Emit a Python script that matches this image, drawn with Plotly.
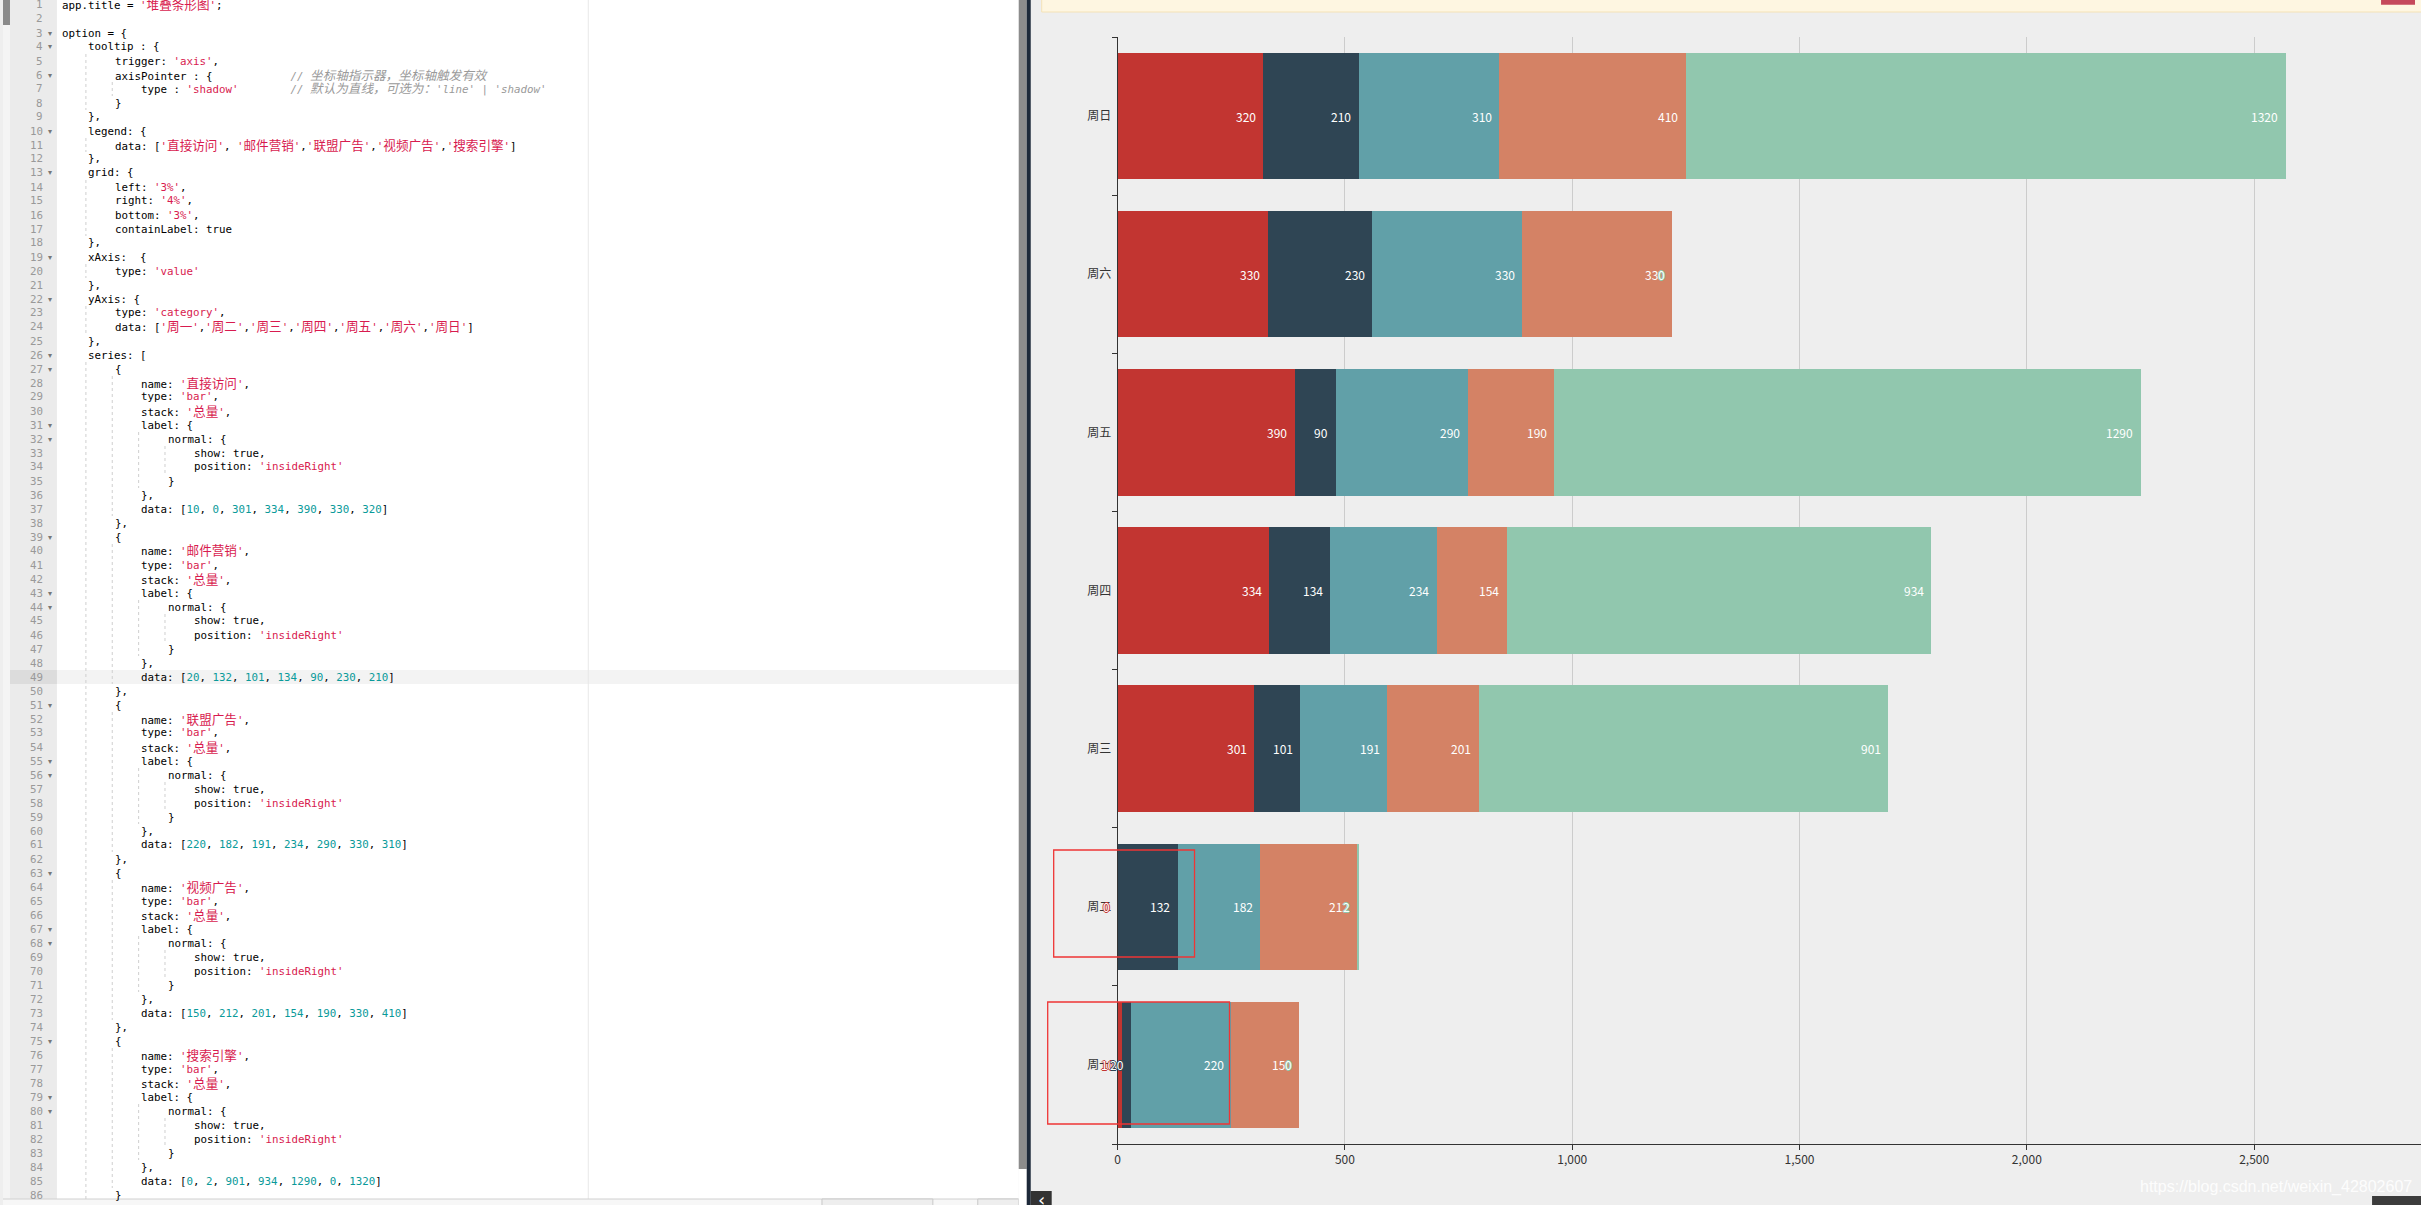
import re
import plotly.graph_objects as go

# ---------------- data ----------------
days = ['周一', '周二', '周三', '周四', '周五', '周六', '周日']
series_names = ['直接访问', '邮件营销', '联盟广告', '视频广告', '搜索引擎']
direct_visit = [10, 0, 301, 334, 390, 330, 320]
email_marketing = [20, 132, 101, 134, 90, 230, 210]
union_ads = [220, 182, 191, 234, 290, 330, 310]
video_ads = [150, 212, 201, 154, 190, 330, 410]
search_engine = [0, 2, 901, 934, 1290, 0, 1320]
x_tick_values = [0, 500, 1000, 1500, 2000, 2500]
x_visible_max = 2867          # value at the (cropped) right edge of the picture

series_values = [direct_visit, email_marketing, union_ads, video_ads, search_engine]
series_colors = ['#c23531', '#2f4554', '#61a0a8', '#d48265', '#91c7ae']

# ---------------- page geometry (pixels) ----------------
W, H = 2421, 1205
def PX(x):
    return x / W
def PY(y):
    return 1 - y / H

CHART_FONT = 'Microsoft YaHei, Noto Sans CJK SC, sans-serif'
MONO = 'DejaVu Sans Mono, Liberation Mono, Noto Sans CJK SC, monospace'
CODE_FS = 10.8
CODE_X0 = 58.2
CW = 6.6
LINE_H = 14.0
LINE0 = 5.0
GUTTER_X0, GUTTER_X1 = 7, 54
PANEL_X1 = 1017

fig = go.Figure()
for name, vals, col in zip(series_names, series_values, series_colors):
    fig.add_trace(go.Bar(
        x=vals, y=days, orientation='h', name=name,
        marker=dict(color=col, line=dict(width=0)),
        showlegend=False,
        hovertemplate='%{y}<br>' + name + ': %{x}<extra></extra>',
    ))

annotations = []
shapes = []

# value labels (insideRight, white with a stroke of the series colour)
def stroke(c):
    return f'1px 0 0 {c}, -1px 0 0 {c}, 0 1px 0 {c}, 0 -1px 0 {c}'

cum = [0] * len(days)
for vals, col in zip(series_values, series_colors):
    for i, (d, v) in enumerate(zip(days, vals)):
        cum[i] += v
        annotations.append(dict(
            x=cum[i], y=d, xref='x', yref='y', text=str(v), showarrow=False,
            xanchor='right', yanchor='middle', xshift=-6.5, borderpad=0,
            font=dict(family=CHART_FONT, size=12, color='white', shadow=stroke(col)),
        ))

# ---------------- editor code text ----------------
def js_list(vals):
    return '[' + ', '.join(str(v) for v in vals) + ']'

code_lines = [
    "app.title = '堆叠条形图';",
    "",
    "option = {",
    "    tooltip : {",
    "        trigger: 'axis',",
    "        axisPointer : {            // 坐标轴指示器，坐标轴触发有效",
    "            type : 'shadow'        // 默认为直线，可选为：'line' | 'shadow'",
    "        }",
    "    },",
    "    legend: {",
    "        data: ['直接访问', '邮件营销','联盟广告','视频广告','搜索引擎']",
    "    },",
    "    grid: {",
    "        left: '3%',",
    "        right: '4%',",
    "        bottom: '3%',",
    "        containLabel: true",
    "    },",
    "    xAxis:  {",
    "        type: 'value'",
    "    },",
    "    yAxis: {",
    "        type: 'category',",
    "        data: ['周一','周二','周三','周四','周五','周六','周日']",
    "    },",
    "    series: [",
]
for k, (name, vals) in enumerate(zip(series_names, series_values)):
    code_lines += [
        "        {",
        f"            name: '{name}',",
        "            type: 'bar',",
        "            stack: '总量',",
        "            label: {",
        "                normal: {",
        "                    show: true,",
        "                    position: 'insideRight'",
        "                }",
        "            },",
        f"            data: {js_list(vals)}",
        "        }," if k < len(series_names) - 1 else "        }",
    ]

fold_lines = [3, 4, 6, 10, 13, 19, 22, 26, 27, 31, 32, 39, 43, 44, 51, 55, 56, 63, 67, 68, 75, 79, 80]
highlight_line = 49

C_TEXT = '#000000'
C_STR = '#d81b4f'
C_NUM = '#0a9a9a'
C_COMMENT = '#9a9a9a'
CJK_RE = re.compile(r'([\u3000-\u303f\u4e00-\u9fff\uff00-\uffef]+)')
TOKEN_RE = re.compile(r"(//.*$|'[^']*'|\b\d+\b)")

def seg_html(text, color, italic=False):
    out = []
    for part in CJK_RE.split(text):
        if not part:
            continue
        style = f'color:{color};'
        if CJK_RE.fullmatch(part):
            style += 'font-size:12.6px;'
        if italic:
            style += 'font-style:italic;'
        out.append(f'<span style="{style}">' + part.replace(' ', '\u00a0') + '</span>')
    return ''.join(out)

def line_html(text):
    out = []
    for tok in TOKEN_RE.split(text):
        if not tok:
            continue
        if tok.startswith('//'):
            out.append(seg_html(tok, C_COMMENT, italic=True))
        elif tok.startswith("'"):
            out.append(seg_html(tok, C_STR))
        elif tok.isdigit():
            out.append(seg_html(tok, C_NUM))
        else:
            out.append(seg_html(tok, C_TEXT))
    return ''.join(out)

guide_cols = {}
for n, line in enumerate(code_lines, start=1):
    yc = LINE0 + (n - 1) * LINE_H
    annotations.append(dict(
        x=PX(41.5), y=PY(yc), xref='paper', yref='paper', text=str(n), showarrow=False,
        xanchor='right', yanchor='middle', borderpad=0,
        font=dict(family=MONO, size=CODE_FS, color='#999999'),
    ))
    if n in fold_lines:
        annotations.append(dict(
            x=PX(47.5), y=PY(yc), xref='paper', yref='paper', text='▾', showarrow=False,
            xanchor='center', yanchor='middle', borderpad=0,
            font=dict(family='DejaVu Sans', size=8, color='#777777'),
        ))
    stripped = line.lstrip(' ')
    if not stripped:
        continue
    indent = len(line) - len(stripped)
    for c in range(4, indent, 4):
        guide_cols.setdefault(c, []).append(n)
    annotations.append(dict(
        x=PX(CODE_X0 + indent * CW), y=PY(yc), xref='paper', yref='paper',
        text=line_html(stripped), showarrow=False,
        xanchor='left', yanchor='middle', borderpad=0,
        font=dict(family=MONO, size=CODE_FS, color=C_TEXT),
    ))

def prect(x0, y0, x1, y1, fill, line_color=None, layer='below', width=1):
    shapes.append(dict(
        type='rect', xref='paper', yref='paper', layer=layer,
        x0=PX(x0), x1=PX(x1), y0=PY(y1), y1=PY(y0), fillcolor=fill,
        line=dict(width=width if line_color else 0, color=line_color or fill),
    ))

def pline(x0, y0, x1, y1, color, width=1, dash='solid', layer='below'):
    shapes.append(dict(
        type='line', xref='paper', yref='paper', layer=layer,
        x0=PX(x0), x1=PX(x1), y0=PY(y0), y1=PY(y1),
        line=dict(color=color, width=width, dash=dash),
    ))

# editor panel
prect(0, 0, PANEL_X1, 1199, '#ffffff')
prect(0, 0, GUTTER_X0, 1199, '#f4f4f4')
prect(0, 0, GUTTER_X0, 25, '#8a8a8a')
prect(GUTTER_X0, 0, GUTTER_X1, 1199, '#ebebeb')
hl_y = LINE0 + (highlight_line - 1) * LINE_H
prect(GUTTER_X1, hl_y - 7, PANEL_X1, hl_y + 7, '#f3f3f3')
prect(GUTTER_X0, hl_y - 7, GUTTER_X1, hl_y + 7, '#dcdcdc')
pline(586, 0, 586, 1199, '#e8e8e8')

# indentation guides (merged runs)
for c, lines in guide_cols.items():
    x = CODE_X0 + c * CW - 1.6
    start = prev = lines[0]
    for n in lines[1:] + [None]:
        if n is not None and n == prev + 1:
            prev = n
            continue
        y0 = LINE0 + (start - 1) * LINE_H - 7
        y1 = LINE0 + (prev - 1) * LINE_H + 7
        pline(x, y0, x, y1, '#cfcfcf', width=1, dash='dot')
        if n is not None:
            start = prev = n

# bottom toolbar of the editor
prect(0, 1199, PANEL_X1, 1210, '#f7f7f7')
pline(0, 1199, PANEL_X1, 1199, '#d0d0d0')
prect(820, 1199, 931, 1210, '#eeeeee', '#c8c8c8')
prect(976, 1199, PANEL_X1, 1210, '#eeeeee', '#c8c8c8')

# splitter / scrollbar
prect(1017, 0, 1025, 1169, '#8c8c8c')
prect(1017, 1169, 1025, 1205, '#ffffff')
prect(1025, 0, 1029, 1205, '#1d2939')

# notification bar and buttons
prect(1040, -6, 2430, 12, '#fef6e1', '#f4e2b6')
prect(2381, -6, 2415, 4.7, '#c5485b')
prect(1029, 1191, 1050, 1210, '#333333')
annotations.append(dict(x=PX(1039.5), y=PY(1199), xref='paper', yref='paper', text='‹',
                        showarrow=False, xanchor='center', yanchor='middle',
                        font=dict(family='DejaVu Sans', size=18, color='#ffffff')))
prect(2372, 1196, 2430, 1212, '#3c3c3c')

# red highlight boxes drawn over the screenshot
prect(1052, 850, 1193, 957, 'rgba(0,0,0,0)', '#ee3535', layer='above', width=1.3)
prect(1046, 1002, 1228, 1124, 'rgba(0,0,0,0)', '#ee3535', layer='above', width=1.3)

# watermark
annotations.append(dict(x=PX(2414), y=PY(1187), xref='paper', yref='paper',
                        text='https://blog.csdn.net/weixin_42802607', showarrow=False,
                        xanchor='right', yanchor='middle',
                        font=dict(family='Liberation Sans', size=16,
                                  color='rgba(255,255,255,0.9)')))

fig.update_layout(
    width=W, height=H, autosize=False,
    margin=dict(l=0, r=0, t=0, b=0, pad=0),
    paper_bgcolor='#eeeeee', plot_bgcolor='#eeeeee',
    barmode='stack', bargap=0.2,
    font=dict(family=CHART_FONT, size=12, color='#333333'),
    showlegend=False,
    xaxis=dict(
        domain=[PX(1116), 1.0], range=[0, x_visible_max],
        tickvals=x_tick_values, tickformat=',d',
        showgrid=True, gridcolor='#cccccc', gridwidth=1, zeroline=False,
        showline=True, linecolor='#333333', linewidth=1,
        ticks='outside', ticklen=5, tickcolor='#333333',
        tickfont=dict(family=CHART_FONT, size=12, color='#333333'),
    ),
    yaxis=dict(
        domain=[PY(1144), PY(37)], range=[-0.5, len(days) - 0.5],
        type='category', categoryorder='array', categoryarray=days,
        showgrid=False, zeroline=False,
        showline=True, linecolor='#333333', linewidth=1,
        ticks='outside', ticklen=5, tickcolor='#333333', tickson='boundaries',
        ticklabelstandoff=3,
        tickfont=dict(family=CHART_FONT, size=12, color='#333333'),
    ),
    annotations=annotations,
    shapes=shapes,
)

fig.write_html(
    'out.html',
    config={'displayModeBar': False},
    post_script="document.body.style.margin='0';document.body.style.overflow='hidden';",
)
